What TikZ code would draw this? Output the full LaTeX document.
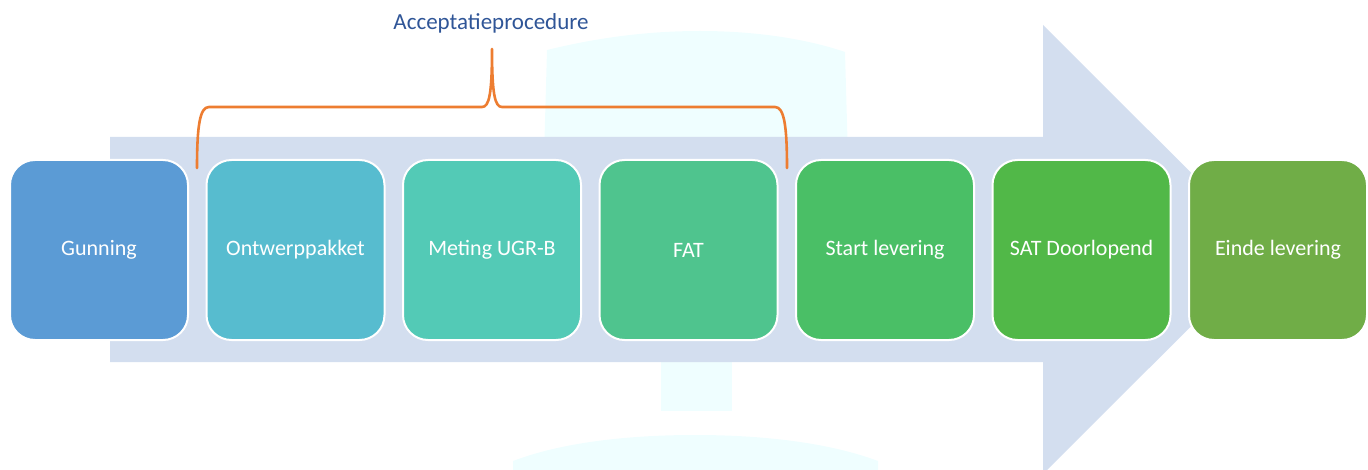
\documentclass[tikz,border=0pt]{standalone}
\usepackage{fontspec}
\setmainfont{Carlito}
\definecolor{arrowbg}{HTML}{D3DEEF}
\definecolor{monitor}{HTML}{EFFEFF}
\definecolor{bracecol}{HTML}{ED7D31}
\definecolor{titlecol}{HTML}{2F5597}
\definecolor{cA}{HTML}{5B9BD5}
\definecolor{cB}{HTML}{57BCCF}
\definecolor{cC}{HTML}{53CAB6}
\definecolor{cD}{HTML}{4FC48E}
\definecolor{cE}{HTML}{4ABF66}
\definecolor{cF}{HTML}{51B848}
\definecolor{cG}{HTML}{70AD47}
\begin{document}
\begin{tikzpicture}[x=1pt,y=-1pt,
  stepbox/.style={rectangle, rounded corners=25pt, minimum width=178pt, minimum height=180pt,
    draw=white, line width=2pt, text=white, font=\fontsize{22}{26}\selectfont, inner sep=0pt},
  brace/.style={draw=bracecol, line width=2.6pt, line cap=round, line join=round}]
\useasboundingbox (0,0) rectangle (1368,470);
\begin{scope}
\clip (0,0) rectangle (1368,470);
% faint monitor in background
\fill[monitor] (540,300) -- (547,50) .. controls (600,37) and (650,31) .. (700,31)
  .. controls (760,31) and (810,40) .. (845,52) -- (852,300) -- cycle;
\fill[monitor] (661,300) rectangle (732,411);
\fill[monitor] (513,470) -- (513,461) .. controls (560,443) and (625,435) .. (695,435)
  .. controls (765,435) and (830,443) .. (878,461) -- (878,470) -- cycle;
% big arrow
\fill[arrowbg] (110,137) -- (1043,137) -- (1043,25) -- (1268,249.5) -- (1043,474) -- (1043,362) -- (110,362) -- cycle;
\end{scope}
% steps
\node[stepbox, fill=cA] (s1) at (99,250) {Gunning};
\node[stepbox, fill=cB] (s2) at (295.5,250) {Ontwerppakket};
\node[stepbox, fill=cC] (s3) at (492,250) {Meting UGR-B};
\node[stepbox, fill=cD] (s4) at (688.5,250) {FAT};
\node[stepbox, fill=cE] (s5) at (885,250) {Start levering};
\node[stepbox, fill=cF] (s6) at (1081.5,250) {SAT Doorlopend};
\node[stepbox, fill=cG] (s7) at (1278,250) {Einde levering};
% title
\node[text=titlecol, font=\fontsize{23}{27}\selectfont, inner sep=0pt] (title) at (491,23) {Acceptatieprocedure};
% bracket
\coordinate (bl) at (197,168);
\coordinate (br) at (787,168);
\coordinate (bp) at (492,49);
\draw[brace] (bl) .. controls (197,125) and (200,107) .. (209,107) -- (482,107)
  .. controls (489,107) and (492,95) .. (bp)
  .. controls (492,95) and (495,107) .. (502,107) -- (775,107)
  .. controls (784,107) and (787,125) .. (br);
\end{tikzpicture}
\end{document}
